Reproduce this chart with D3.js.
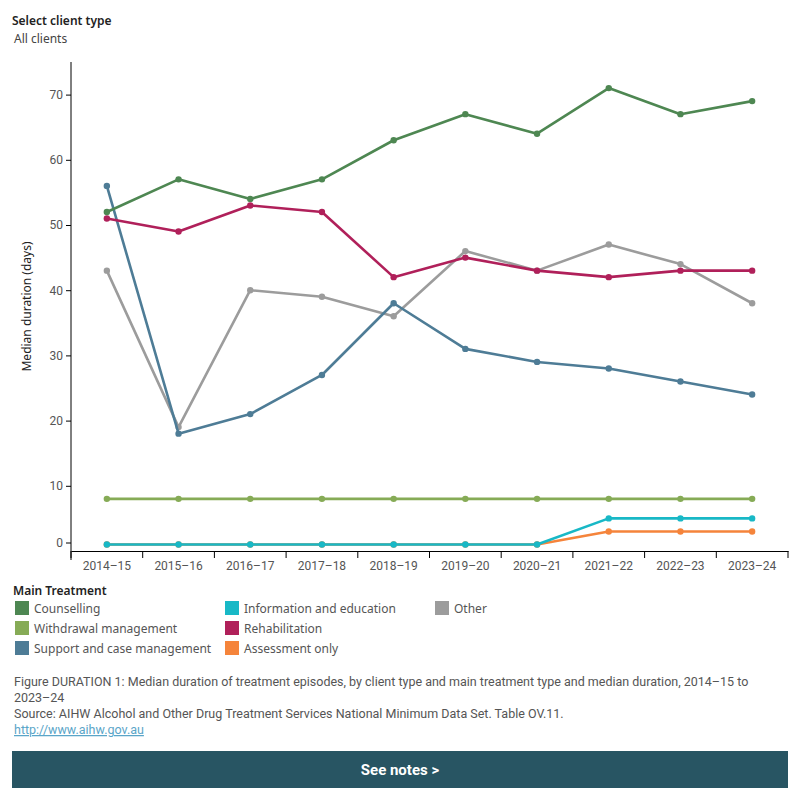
<!DOCTYPE html>
<html>
<head>
<meta charset="utf-8">
<script src="https://cdn.jsdelivr.net/npm/d3@7"></script>
<style>
  body { margin: 0; background: #fff; }
  svg text { font-family: "Noto Sans", "Open Sans", sans-serif; }
  .tick text { fill: #555; font-size: 12px; }
  .narrow { font-family: "Roboto", sans-serif; }
</style>
</head>
<body>
<div id="chart"></div>
<script>
// chart data
const years = ["2014–15", "2015–16", "2016–17", "2017–18", "2018–19", "2019–20", "2020–21", "2021–22", "2022–23", "2023–24"];
const treatments = ["Counselling", "Withdrawal management", "Support and case management",
  "Information and education", "Rehabilitation", "Assessment only", "Other"];
const treatmentColors = ["#4e8752", "#86ab56", "#4e7c96", "#18b8c6", "#b0205a", "#f5843b", "#9c9c9c"];

const counselling = [52, 57, 54, 57, 63, 67, 64, 71, 67, 69];
const withdrawal = [8, 8, 8, 8, 8, 8, 8, 8, 8, 8];
const support = [56, 18, 21, 27, 38, 31, 29, 28, 26, 24];
const information = [1, 1, 1, 1, 1, 1, 1, 5, 5, 5];
const rehabilitation = [51, 49, 53, 52, 42, 45, 43, 42, 43, 43];
const assessment = [1, 1, 1, 1, 1, 1, 1, 3, 3, 3];
const other = [43, 19, 40, 39, 36, 46, 43, 47, 44, 38];
const yTicks = [0, 10, 20, 30, 40, 50, 60, 70];

const seriesValues = [counselling, withdrawal, support, information, rehabilitation, assessment, other];
// draw order: back to front
const drawOrder = [6, 5, 3, 1, 2, 4, 0];

const width = 800, height = 800;
const svg = d3.select("#chart").append("svg")
  .attr("width", width)
  .attr("height", height);

// header
svg.append("text").attr("x", 12).attr("y", 25)
  .attr("font-size", 12).attr("font-weight", 600).attr("fill", "#222")
  .text("Select client type");
svg.append("text").attr("x", 14).attr("y", 43)
  .attr("font-size", 12).attr("fill", "#444")
  .text("All clients");

const x = d3.scaleBand().domain(years).range([71, 788]);
const y = d3.scaleLinear().domain([0, 75]).range([551, 62]);
const color = d3.scaleOrdinal().domain(treatments).range(treatmentColors);

// axes
const xAxis = svg.append("g")
  .attr("transform", `translate(0,${y(0)})`)
  .call(d3.axisBottom(x).tickSize(0).tickPadding(10));
xAxis.select(".domain").attr("stroke", "#000");
xAxis.selectAll(".tick text").attr("class", "narrow").attr("fill", "#555").attr("font-size", 13);
xAxis.selectAll(".bound")
  .data(years.map(d => x(d)).concat([x.range()[1]]))
  .enter().append("line")
  .attr("class", "bound")
  .attr("x1", d => d).attr("x2", d => d)
  .attr("y1", 0).attr("y2", 7)
  .attr("stroke", "#000");

const yAxis = svg.append("g")
  .attr("transform", `translate(${x.range()[0]},0)`)
  .call(d3.axisLeft(y).tickValues(yTicks).tickSize(5).tickSizeOuter(0));
yAxis.select(".domain").attr("stroke", "#000")
  .attr("d", `M0,${y(75)}V${y(0) + 9}`);
yAxis.selectAll(".tick line").attr("stroke", "#000");
yAxis.selectAll(".tick text").attr("class", "narrow").attr("fill", "#555").attr("font-size", 13);
// the zero label sits a little above the baseline in the original
yAxis.selectAll(".tick").filter(d => d === 0)
  .attr("transform", `translate(0,${y(0) - 8})`);

svg.append("text")
  .attr("transform", `translate(31,${(y(0) + y(75)) / 2}) rotate(-90)`)
  .attr("text-anchor", "middle")
  .attr("font-size", 12).attr("fill", "#222")
  .text("Median duration (days)");

// lines
const line = d3.line()
  .x((d, i) => x(years[i]) + x.bandwidth() / 2)
  .y(d => y(d));

drawOrder.forEach(k => {
  const g = svg.append("g");
  g.append("path")
    .datum(seriesValues[k])
    .attr("d", line)
    .attr("fill", "none")
    .attr("stroke", color(treatments[k]))
    .attr("stroke-width", 2.6)
    .attr("stroke-linejoin", "round");
  g.selectAll("circle")
    .data(seriesValues[k])
    .enter().append("circle")
    .attr("cx", (d, i) => x(years[i]) + x.bandwidth() / 2)
    .attr("cy", d => y(d))
    .attr("r", 3.2)
    .attr("fill", color(treatments[k]));
});

// legend
svg.append("text").attr("x", 13).attr("y", 595)
  .attr("font-size", 12).attr("font-weight", 600).attr("fill", "#222")
  .text("Main Treatment");

const legendCols = [0, 0, 0, 1, 1, 1, 2];
const legendRows = [0, 1, 2, 0, 1, 2, 0];
const legend = svg.selectAll(".legend")
  .data(treatments)
  .enter().append("g")
  .attr("class", "legend")
  .attr("transform", (d, i) => `translate(${15 + legendCols[i] * 210},${601 + legendRows[i] * 20})`);
legend.append("rect")
  .attr("width", 14).attr("height", 14)
  .attr("fill", d => color(d));
legend.append("text")
  .attr("x", 19).attr("y", 11.5)
  .attr("font-size", 12).attr("fill", "#555")
  .text(d => d);

// footer
const foot = svg.append("g").attr("font-size", 12.5).attr("fill", "#555");
foot.append("text").attr("class", "narrow").attr("x", 14).attr("y", 686)
  .text("Figure DURATION 1: Median duration of treatment episodes, by client type and main treatment type and median duration, 2014–15 to");
foot.append("text").attr("class", "narrow").attr("x", 14).attr("y", 702).text("2023–24");
foot.append("text").attr("class", "narrow").attr("x", 14).attr("y", 718)
  .text("Source: AIHW Alcohol and Other Drug Treatment Services National Minimum Data Set. Table OV.11.");
foot.append("text").attr("class", "narrow").attr("x", 14).attr("y", 734)
  .attr("fill", "#5aa5c8").attr("text-decoration", "underline")
  .text("http://www.aihw.gov.au");

svg.append("rect").attr("x", 12).attr("y", 751).attr("width", 776).attr("height", 37)
  .attr("fill", "#285563");
svg.append("text").attr("class", "narrow").attr("x", 400).attr("y", 775)
  .attr("text-anchor", "middle").attr("font-size", 15).attr("font-weight", 700).attr("fill", "#fff")
  .text("See notes >");
</script>
</body>
</html>
